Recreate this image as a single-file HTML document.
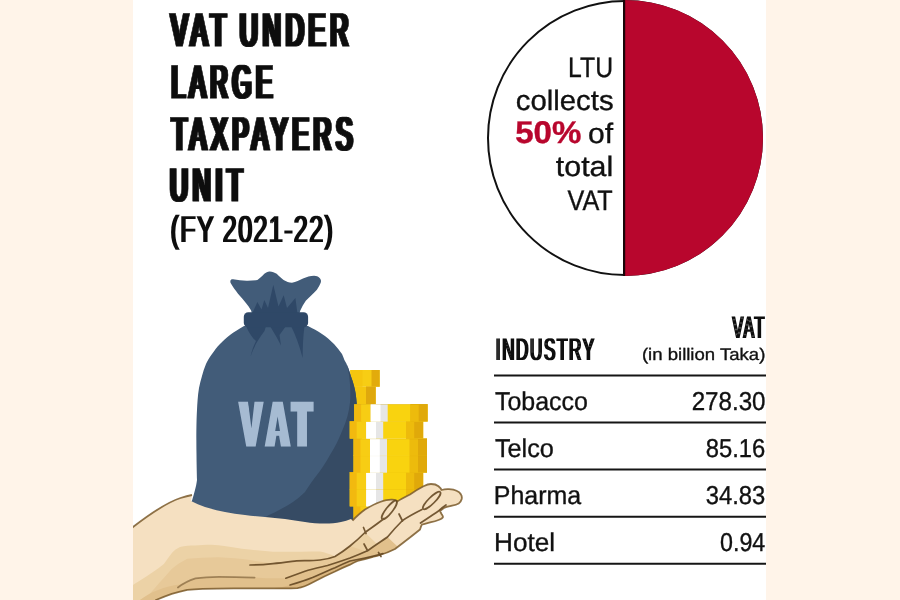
<!DOCTYPE html>
<html lang="en">
<head>
<meta charset="utf-8">
<title>VAT under Large Taxpayers Unit</title>
<style>
  html,body{margin:0;padding:0;background:#fff;}
  body{width:900px;height:600px;overflow:hidden;position:relative;}
  svg{position:absolute;left:0;top:0;display:block;}
  text{font-family:"Liberation Sans",sans-serif;text-rendering:geometricPrecision;}
</style>
</head>
<body>
<svg width="900" height="600" viewBox="0 0 900 600">
  <rect x="0" y="0" width="900" height="600" fill="#ffffff"/>
  <defs>
<filter id="d2" x="-5%" y="-20%" width="110%" height="140%"><feMorphology operator="dilate" radius="2 0"/></filter>
<filter id="d1" x="-5%" y="-20%" width="110%" height="140%"><feMorphology operator="dilate" radius="1 0"/></filter>
</defs>
  <!-- TITLE -->
  <text id="t1" font-family="'Liberation Sans',sans-serif" font-weight="400" fill="#0a0a0a" stroke="#0a0a0a" stroke-width="0.9" font-size="47" letter-spacing="9" filter="url(#d2)" word-spacing="-4" x="171.06" y="46.2" textLength="182.06" lengthAdjust="spacingAndGlyphs">VAT UNDER</text>
  <text id="t2" font-family="'Liberation Sans',sans-serif" font-weight="400" fill="#0a0a0a" stroke="#0a0a0a" stroke-width="0.9" font-size="47" letter-spacing="9" filter="url(#d2)" x="171.40" y="97.9" textLength="105.49" lengthAdjust="spacingAndGlyphs">LARGE</text>
  <text id="t3" font-family="'Liberation Sans',sans-serif" font-weight="400" fill="#0a0a0a" stroke="#0a0a0a" stroke-width="0.9" font-size="47" letter-spacing="9" filter="url(#d2)" x="171.86" y="149.5" textLength="185.41" lengthAdjust="spacingAndGlyphs">TAXPAYERS</text>
  <text id="t4" font-family="'Liberation Sans',sans-serif" font-weight="400" fill="#0a0a0a" stroke="#0a0a0a" stroke-width="0.9" font-size="47" letter-spacing="9" filter="url(#d2)" x="170.02" y="201.2" textLength="77.24" lengthAdjust="spacingAndGlyphs">UNIT</text>
  <text id="t5" font-family="'Liberation Sans',sans-serif" font-weight="400" fill="#0a0a0a" stroke="#0a0a0a" stroke-width="0" font-size="37.6" letter-spacing="2" filter="url(#d1)" x="170.50" y="242.2" textLength="163.70" lengthAdjust="spacingAndGlyphs">(FY 2021-22)</text>

  <!-- PIE -->
  <g id="pie">
    <circle cx="625" cy="138" r="137" fill="#fff" stroke="#111" stroke-width="2"/>
    <path d="M625 0 A138 138 0 0 1 625 276 Z" fill="#b8062d"/>
    <line x1="624.1" y1="0" x2="624.1" y2="276" stroke="#1a0508" stroke-width="2.2"/>
    <text id="p1" font-family="'Liberation Sans',sans-serif" font-weight="400" fill="#111" stroke="#111" stroke-width="0.35" font-size="28.2" x="568.10" y="76.7" textLength="44.95" lengthAdjust="spacingAndGlyphs">LTU</text>
    <text id="p2" font-family="'Liberation Sans',sans-serif" font-weight="400" fill="#111" stroke="#111" stroke-width="0.35" font-size="28.2" x="515.72" y="109.7" textLength="97.84" lengthAdjust="spacingAndGlyphs">collects</text>
    <text id="p3" font-family="'Liberation Sans',sans-serif" font-weight="700" fill="#b8062d" stroke="#b8062d" stroke-width="0.4" font-size="31.4" x="515.24" y="142.8" textLength="66.11" lengthAdjust="spacingAndGlyphs">50%</text>
    <text id="p4" font-family="'Liberation Sans',sans-serif" font-weight="400" fill="#111" stroke="#111" stroke-width="0.35" font-size="28.2" x="588.04" y="143" textLength="25.07" lengthAdjust="spacingAndGlyphs">of</text>
    <text id="p5" font-family="'Liberation Sans',sans-serif" font-weight="400" fill="#111" stroke="#111" stroke-width="0.35" font-size="28.2" x="555.81" y="176.4" textLength="57.50" lengthAdjust="spacingAndGlyphs">total</text>
    <text id="p6" font-family="'Liberation Sans',sans-serif" font-weight="400" fill="#111" stroke="#111" stroke-width="0.35" font-size="28.2" x="567.50" y="209.6" textLength="45.27" lengthAdjust="spacingAndGlyphs">VAT</text>
  </g>

  <!-- TABLE -->
  <g id="table">
    <text id="h1" font-family="'Liberation Sans',sans-serif" font-weight="400" fill="#0a0a0a" stroke="#0a0a0a" stroke-width="0" font-size="31.2" letter-spacing="3" filter="url(#d1)" x="495.78" y="360" textLength="99.91" lengthAdjust="spacingAndGlyphs">INDUSTRY</text>
    <text id="h2" font-family="'Liberation Sans',sans-serif" font-weight="400" fill="#0a0a0a" stroke="#0a0a0a" stroke-width="0" font-size="31.2" letter-spacing="3" filter="url(#d1)" x="732.40" y="338.2" textLength="33.42" lengthAdjust="spacingAndGlyphs">VAT</text>
    <text id="h3" font-family="'Liberation Sans',sans-serif" font-weight="400" fill="#111" stroke="#111" stroke-width="0.35" font-size="16.8" x="641.91" y="360" textLength="123.44" lengthAdjust="spacingAndGlyphs">(in billion Taka)</text>
    <g stroke="#151515" stroke-width="2">
      <line x1="494" x2="766" y1="375.4" y2="375.4"/>
      <line x1="494" x2="766" y1="422.6" y2="422.6"/>
      <line x1="494" x2="766" y1="469.5" y2="469.5"/>
      <line x1="494" x2="766" y1="516.8" y2="516.8"/>
      <line x1="494" x2="766" y1="563.8" y2="563.8"/>
    </g>
    <text id="r1" font-family="'Liberation Sans',sans-serif" font-weight="400" fill="#111" stroke="#111" stroke-width="0.35" font-size="25.8" x="494.94" y="409.7" textLength="92.97" lengthAdjust="spacingAndGlyphs">Tobacco</text>
    <text id="v1" font-family="'Liberation Sans',sans-serif" font-weight="400" fill="#111" stroke="#111" stroke-width="0.35" font-size="25.8" x="691.67" y="409.7" textLength="73.91" lengthAdjust="spacingAndGlyphs">278.30</text>
    <text id="r2" font-family="'Liberation Sans',sans-serif" font-weight="400" fill="#111" stroke="#111" stroke-width="0.35" font-size="25.8" x="494.94" y="456.7" textLength="58.98" lengthAdjust="spacingAndGlyphs">Telco</text>
    <text id="v2" font-family="'Liberation Sans',sans-serif" font-weight="400" fill="#111" stroke="#111" stroke-width="0.35" font-size="25.8" x="705.70" y="456.7" textLength="59.60" lengthAdjust="spacingAndGlyphs">85.16</text>
    <text id="r3" font-family="'Liberation Sans',sans-serif" font-weight="400" fill="#111" stroke="#111" stroke-width="0.35" font-size="25.8" x="493.77" y="503.8" textLength="87.33" lengthAdjust="spacingAndGlyphs">Pharma</text>
    <text id="v3" font-family="'Liberation Sans',sans-serif" font-weight="400" fill="#111" stroke="#111" stroke-width="0.35" font-size="25.8" x="705.70" y="503.8" textLength="59.60" lengthAdjust="spacingAndGlyphs">34.83</text>
    <text id="r4" font-family="'Liberation Sans',sans-serif" font-weight="400" fill="#111" stroke="#111" stroke-width="0.35" font-size="25.8" x="494.04" y="550.8" textLength="61.02" lengthAdjust="spacingAndGlyphs">Hotel</text>
    <text id="v4" font-family="'Liberation Sans',sans-serif" font-weight="400" fill="#111" stroke="#111" stroke-width="0.35" font-size="25.8" x="720.00" y="550.8" textLength="45.30" lengthAdjust="spacingAndGlyphs">0.94</text>
  </g>
  <!-- ILLUSTRATION -->
  <g id="illus">
    <!-- coins: back stack -->
    <rect x="350.3" y="370" width="29.4" height="16.7" fill="#f7cd14"/>
    <rect x="350.3" y="370" width="12.2" height="16.7" fill="#f5c60f"/>
    <rect x="371.5" y="370" width="8.2" height="16.7" fill="#e2ab0c"/>
    <rect x="354" y="386.5" width="21.7" height="17.9" fill="#f5c60f"/>
    <rect x="366" y="386.5" width="9.7" height="17.9" fill="#dfa80d"/>
    <!-- bag -->
    <path d="M244,326 C238,329.5 234,332 230,335 C226,338 223,341 220,344 C217,347 214.5,350.5 212,354 C209.5,357.5 207.5,360.5 206,364
      C204.3,368 203,372 202,376 C200.8,380 199.8,384 199,388 C198.3,392 197.9,396 197.6,400 C197.3,403.5 197.1,407 197,410
      C196.4,420 196.2,440 196.5,455 C196.6,465 196.9,474 197,480 C196.5,484 195.8,487 195,490 C194,494 193,497 192.2,500 L191,502.5
      L191,506 L205,512 L225,517 L245,520 L265,522 L285,524 L305,527 L362,528 L362,410 L357,410 C357,407.5 356.9,405.5 356.7,403.3
      C356.4,400 356.1,396.5 355.6,393.3 C355.2,390.5 354.6,388 353.9,385.6 C353.1,382.5 352.2,379.5 351.1,376.7 C350.1,373.3 349,370 347.8,366.7 C346.8,364.3 345.7,362 344.4,360 C343.7,358 342.9,356 342,354
      C339.7,350.5 337,347.2 334,344 C330.5,340.5 326.5,337 322,334 C317.5,331 313,328.5 308,326 Z" fill="#425c79"/>
    <clipPath id="bagclip"><path d="M244,326 C238,329.5 234,332 230,335 C226,338 223,341 220,344 C217,347 214.5,350.5 212,354 C209.5,357.5 207.5,360.5 206,364
      C204.3,368 203,372 202,376 C200.8,380 199.8,384 199,388 C198.3,392 197.9,396 197.6,400 C197.3,403.5 197.1,407 197,410
      C196.4,420 196.2,440 196.5,455 C196.6,465 196.9,474 197,480 C196.5,484 195.8,487 195,490 C194,494 193,497 192.2,500 L191,502.5
      L191,506 L205,512 L225,517 L245,520 L265,522 L285,524 L305,527 L362,528 L362,410 L357,410 C357,407.5 356.9,405.5 356.7,403.3
      C356.4,400 356.1,396.5 355.6,393.3 C355.2,390.5 354.6,388 353.9,385.6 C353.1,382.5 352.2,379.5 351.1,376.7 C350.1,373.3 349,370 347.8,366.7 C346.8,364.3 345.7,362 344.4,360 C343.7,358 342.9,356 342,354
      C339.7,350.5 337,347.2 334,344 C330.5,340.5 326.5,337 322,334 C317.5,331 313,328.5 308,326 Z"/></clipPath>
    <g clip-path="url(#bagclip)">
      <path d="M346,360 C350,375 351,390 350,402.5 C349,412 346.5,421 342.5,430 C339,439 335,447 330,455 C325.5,463 320.5,470.5 315,477.5
        C311,482.5 308,487.5 305,492 C301,496 297,499 293,502 C289,504.5 285,507 281,509 C277,511.2 273,513.2 269,515 L262,519 L300,535 L370,535 L370,350 Z" fill="#364b64"/>
    </g>
    <!-- bag frill -->
    <path d="M251.8,313 C251.6,312 251.3,311.2 251.1,310.4 C249.7,308 248,305.7 246.3,303.5 C243.7,300 240.8,297 238,293.8 C235.5,290.3 232.5,286.5 230.8,283.3
      C230,281.5 230.2,280.3 231.3,279.6 C231.9,279.2 232.5,279.2 233.1,279.3 C238,280.3 243,280.8 247.7,280.7 C251,280.7 254.5,280.6 257.4,280
      C260,278.3 262.2,276 264.3,273.8 C266,272.2 267.8,271.3 269.8,271.4 C272.3,271.5 274.6,272.4 276.7,273.8 C279,276 281.2,278.3 283.6,280
      C286.2,281.6 289,282.6 292,282.8 C296,282.4 299.5,280.3 303,278.6 C306.7,277 310.3,275.8 314.1,275.8 C316.2,275.8 318.3,276.5 319.6,277.9
      C321,279.2 321.3,281 320.7,282.8 C319.8,285.3 318.5,287.5 316.9,289.7 C313.5,293.6 309.5,297 305.8,300.7 C303.6,303.8 301.8,307 300.3,310.4 L299.6,313 Z" fill="#425c79"/>
    <!-- folds -->
    <path d="M252,314 L257.4,302 L261.5,309.5 L264.3,300 L268,308 L273.3,284.8 L278.5,306.5 L283.7,295.2 L287,308 L295.4,298 L297.5,314 Z" fill="#2f4867"/>
    <path d="M246,326 C249,333 252.5,338 256,341 C253.5,346 251.8,351 250.5,356.5 C253.5,347.5 258,339.5 264.5,331 L266,326 Z M270,326 L276.5,337 L281,345.5 L279.5,335 L286,326 Z M291,326 C295.5,335 299.5,345.5 302.6,358 C302.8,347 303,336.5 304.5,326 Z" fill="#2f4867"/>
    <!-- band -->
    <rect x="243.8" y="312.3" width="64.3" height="15" rx="4.5" ry="4.5" fill="#2f4867"/>

    <!-- bag label -->
    <filter id="lbl2" x="-10%" y="-20%" width="120%" height="140%"><feMorphology operator="dilate" radius="2 0"/></filter>
    <g filter="url(#lbl2)">
      <text transform="translate(0,444.8) scale(0.49,1)" x="492 544.9 598.2" y="0" font-family="'Liberation Sans',sans-serif" font-weight="700" font-size="60.7" fill="#a6bbd2" stroke="#a6bbd2" stroke-width="3" stroke-linejoin="miter">VAT</text>
    </g>
    <path d="M247.9,400 L254.7,400 L251.4,428.5 Z M277.6,416.5 L280,431 L275.2,431 Z" fill="#425c79"/>

    <!-- coins: front stack -->
    <g transform="translate(353.5,506)">
        <rect x="0" y="0" width="73.5" height="17.4" fill="#f9d30f"/>
        <rect x="0" y="0" width="7.4" height="17.4" fill="#f2b90f"/>
        <rect x="7" y="0" width="10" height="17.4" fill="#f7cd14"/>
        <rect x="16.5" y="0" width="17" height="17.4" fill="#e6e6e6"/>
        <rect x="16.5" y="0" width="9.8" height="17.4" fill="#ffffff"/>
        <rect x="56.3" y="0" width="17.2" height="17.4" fill="#e0a90a"/>
        <rect x="56.3" y="0" width="8.2" height="17.4" fill="#edbb0c"/>
        <rect x="0" y="0" width="73.5" height="0.8" fill="#b98a00" opacity="0.22"/>
      </g>
    <g transform="translate(349.7,489)">
        <rect x="0" y="0" width="73.5" height="17.4" fill="#f9d30f"/>
        <rect x="0" y="0" width="7.4" height="17.4" fill="#f2b90f"/>
        <rect x="7" y="0" width="10" height="17.4" fill="#f7cd14"/>
        <rect x="16.5" y="0" width="17" height="17.4" fill="#e6e6e6"/>
        <rect x="16.5" y="0" width="9.8" height="17.4" fill="#ffffff"/>
        <rect x="56.3" y="0" width="17.2" height="17.4" fill="#e0a90a"/>
        <rect x="56.3" y="0" width="8.2" height="17.4" fill="#edbb0c"/>
        <rect x="0" y="0" width="73.5" height="0.8" fill="#b98a00" opacity="0.22"/>
      </g>
    <g transform="translate(349.7,472)">
        <rect x="0" y="0" width="73.5" height="17.4" fill="#f9d30f"/>
        <rect x="0" y="0" width="7.4" height="17.4" fill="#f2b90f"/>
        <rect x="7" y="0" width="10" height="17.4" fill="#f7cd14"/>
        <rect x="16.5" y="0" width="17" height="17.4" fill="#e6e6e6"/>
        <rect x="16.5" y="0" width="9.8" height="17.4" fill="#ffffff"/>
        <rect x="56.3" y="0" width="17.2" height="17.4" fill="#e0a90a"/>
        <rect x="56.3" y="0" width="8.2" height="17.4" fill="#edbb0c"/>
        <rect x="0" y="0" width="73.5" height="0.8" fill="#b98a00" opacity="0.22"/>
      </g>
    <g transform="translate(353.5,455.3)">
        <rect x="0" y="0" width="73.5" height="17.4" fill="#f9d30f"/>
        <rect x="0" y="0" width="7.4" height="17.4" fill="#f2b90f"/>
        <rect x="7" y="0" width="10" height="17.4" fill="#f7cd14"/>
        <rect x="16.5" y="0" width="17" height="17.4" fill="#e6e6e6"/>
        <rect x="16.5" y="0" width="9.8" height="17.4" fill="#ffffff"/>
        <rect x="56.3" y="0" width="17.2" height="17.4" fill="#e0a90a"/>
        <rect x="56.3" y="0" width="8.2" height="17.4" fill="#edbb0c"/>
        <rect x="0" y="0" width="73.5" height="0.8" fill="#b98a00" opacity="0.22"/>
      </g>
    <g transform="translate(353.5,438.5)">
        <rect x="0" y="0" width="73.5" height="17.4" fill="#f9d30f"/>
        <rect x="0" y="0" width="7.4" height="17.4" fill="#f2b90f"/>
        <rect x="7" y="0" width="10" height="17.4" fill="#f7cd14"/>
        <rect x="16.5" y="0" width="17" height="17.4" fill="#e6e6e6"/>
        <rect x="16.5" y="0" width="9.8" height="17.4" fill="#ffffff"/>
        <rect x="56.3" y="0" width="17.2" height="17.4" fill="#e0a90a"/>
        <rect x="56.3" y="0" width="8.2" height="17.4" fill="#edbb0c"/>
        <rect x="0" y="0" width="73.5" height="0.8" fill="#b98a00" opacity="0.22"/>
      </g>
    <g transform="translate(349.7,421.2)">
        <rect x="0" y="0" width="73.5" height="17.4" fill="#f9d30f"/>
        <rect x="0" y="0" width="7.4" height="17.4" fill="#f2b90f"/>
        <rect x="7" y="0" width="10" height="17.4" fill="#f7cd14"/>
        <rect x="16.5" y="0" width="17" height="17.4" fill="#e6e6e6"/>
        <rect x="16.5" y="0" width="9.8" height="17.4" fill="#ffffff"/>
        <rect x="56.3" y="0" width="17.2" height="17.4" fill="#e0a90a"/>
        <rect x="56.3" y="0" width="8.2" height="17.4" fill="#edbb0c"/>
        <rect x="0" y="0" width="73.5" height="0.8" fill="#b98a00" opacity="0.22"/>
      </g>
    <g transform="translate(354.2,404.2)">
        <rect x="0" y="0" width="73.5" height="17.4" fill="#f9d30f"/>
        <rect x="0" y="0" width="7.4" height="17.4" fill="#f2b90f"/>
        <rect x="7" y="0" width="10" height="17.4" fill="#f7cd14"/>
        <rect x="16.5" y="0" width="17" height="17.4" fill="#e6e6e6"/>
        <rect x="16.5" y="0" width="9.8" height="17.4" fill="#ffffff"/>
        <rect x="56.3" y="0" width="17.2" height="17.4" fill="#e0a90a"/>
        <rect x="56.3" y="0" width="8.2" height="17.4" fill="#edbb0c"/>
        <rect x="0" y="0" width="73.5" height="0.8" fill="#b98a00" opacity="0.22"/>
      </g>

    <!-- hand -->
    <clipPath id="handclip"><path d="M110,545 L133,527 C146,517 165,503 180.5,498 C185,496.5 189,495.5 192,495
        L191,501 C195.5,503.2 200,505.2 205,507 C211.5,509 218,510.6 225,512 C231.5,513.2 238,514.2 245,515 C251.5,515.8 258,516.4 265,517
        C271.5,517.6 278,518.2 285,519 C291.5,519.9 298,521 305,522 C311.5,522.9 318,523.6 325,523.6 C330.5,523.5 336,523 341,522 C344.5,521.2 348,520.2 351,519 L352.5,520.5
        C356,517 360,513 365,509.5 C371,506 376,503.5 380,502 C385,500.3 389,499.5 392,499.7 C395,499.9 397,500.5 397.2,501.5
        C401,499 406,496.5 410,494.5 C415,491 419,488.5 423.5,486.2 C426,485 428.5,484 431,484 C434,484 437,485 438.5,486.2 C440,487.5 441,488.5 441.5,490
        C444,489.3 446.5,489 449,489.2 C452,489.4 454.5,489.8 456.5,490.7 C458.8,491.7 460.3,493 461,494.5 C461.9,496 462,497.5 461.7,499
        C461.2,501 460.2,502.5 458.7,503.5 C456.5,504.8 454.5,505.2 452,505.7 C450,506.2 448,506.6 446,507.2 C443.5,508 441.5,509.5 440,511
        C440.5,512 441,513 441.5,514 C442.3,515.2 443,516 443,517 C442.5,518.5 440.5,519.3 438.5,520 C436,520.9 433.5,521.6 431,522.2
        C428,523 425,523.7 422,524.5 C421,526 420.5,527.8 420,529.5 C412,536 403.5,542.5 395,549 C390,551.5 385,553.5 380,555
        C372,557.5 365,559 357.5,561 C355,562 352.5,563.3 350,564.7 C345,566.8 340,569 335,571.5 C327,575 320,578.5 312.5,582.5
        C308,585 303,587.3 297.5,588.2 C287,588.6 276,588.4 265,588.3 L233.9,588.3 C223,588.3 213,588.4 202.8,588.8
        C197,589 192,589.3 187.2,589.9 C182,591 177,592.2 171.7,593.8 C166,595.8 161,597.8 156,600 L150,612 L110,612 Z"/></clipPath>
    <path d="M110,545 L133,527 C146,517 165,503 180.5,498 C185,496.5 189,495.5 192,495
        L191,501 C195.5,503.2 200,505.2 205,507 C211.5,509 218,510.6 225,512 C231.5,513.2 238,514.2 245,515 C251.5,515.8 258,516.4 265,517
        C271.5,517.6 278,518.2 285,519 C291.5,519.9 298,521 305,522 C311.5,522.9 318,523.6 325,523.6 C330.5,523.5 336,523 341,522 C344.5,521.2 348,520.2 351,519 L352.5,520.5
        C356,517 360,513 365,509.5 C371,506 376,503.5 380,502 C385,500.3 389,499.5 392,499.7 C395,499.9 397,500.5 397.2,501.5
        C401,499 406,496.5 410,494.5 C415,491 419,488.5 423.5,486.2 C426,485 428.5,484 431,484 C434,484 437,485 438.5,486.2 C440,487.5 441,488.5 441.5,490
        C444,489.3 446.5,489 449,489.2 C452,489.4 454.5,489.8 456.5,490.7 C458.8,491.7 460.3,493 461,494.5 C461.9,496 462,497.5 461.7,499
        C461.2,501 460.2,502.5 458.7,503.5 C456.5,504.8 454.5,505.2 452,505.7 C450,506.2 448,506.6 446,507.2 C443.5,508 441.5,509.5 440,511
        C440.5,512 441,513 441.5,514 C442.3,515.2 443,516 443,517 C442.5,518.5 440.5,519.3 438.5,520 C436,520.9 433.5,521.6 431,522.2
        C428,523 425,523.7 422,524.5 C421,526 420.5,527.8 420,529.5 C412,536 403.5,542.5 395,549 C390,551.5 385,553.5 380,555
        C372,557.5 365,559 357.5,561 C355,562 352.5,563.3 350,564.7 C345,566.8 340,569 335,571.5 C327,575 320,578.5 312.5,582.5
        C308,585 303,587.3 297.5,588.2 C287,588.6 276,588.4 265,588.3 L233.9,588.3 C223,588.3 213,588.4 202.8,588.8
        C197,589 192,589.3 187.2,589.9 C182,591 177,592.2 171.7,593.8 C166,595.8 161,597.8 156,600 L150,612 L110,612 Z" fill="#f5e0c1"/>
    <g clip-path="url(#handclip)">
      <!-- mid tone -->
      <path d="M120,600 L120,594 C125,590.5 129,587.5 133,585 C136,583 138,581.7 140,580.5 C143.5,578.3 147,576.2 150,574 C153.5,571.5 157,569.3 160,567 C162,565.5 163,564.7 163.9,564 C166.5,560.5 169,556.8 171.7,553.3
        C174,550.5 177,548.3 180,547 C185,546 190,545.7 195,545.6 C200,545.2 205.5,544.8 211,544.8 C216,545 221,545.6 226,546.3 C231.5,547 237,547.8 242,548.7
        C250,549.6 257,550.4 265,551 L273,551.8 C289,552 305,551.6 320,551.5 C325,552.5 330,554 335,556.5
        C340,553.5 345,550 350,546 C355,542 360,537.5 365,532.5 L376,543 L395,552 L350,600 Z" fill="#ecd2a6"/>
      <!-- darker band -->
      <path d="M148.3,595.3 C152,591.3 155.7,587.2 159.2,582.9 C163.5,578.2 167.7,573.5 171.7,568.9 C176.5,565 182,561.5 187.2,558.8
        C197,557.8 208,557.3 218.3,557.2 C229,557.6 240,558.6 250,560 C258,561.6 266,562.8 273,563.6 C281,563 289,561.8 296.6,560.8
        C304,560.5 312,561 320,560 C325,559.5 330,558.5 335,556.5 C340,553.5 345,550 350,546 L366,551.5 L395,552 L350,600 L140,600 Z" fill="#e7c999"/>
      <!-- below line 2 -->
      <path d="M140,600 C150,592 165,586 180,584.4 C186,582 191,580 195.5,578.2 C203,577.2 211,576.8 218.9,576.7 C231,576.7 243,577 254.6,577.4
        C265,578.2 276,578.5 285.8,578.2 C292,576 298,573.8 305,571.2 C312,569 320,567.3 327.5,565.5 C335,563.2 342,560.8 350,558
        C356,555.7 362,553.2 368,550.5 C374,546 381,541.5 387.5,537 L398,547 L350,600 Z" fill="#e1c08c"/>
      <!-- below line 3 -->
      <path d="M270,600 L275,588 C280,587.5 285,586.5 290,585 C297,583 305,580.5 312.5,577.5 C320,574.2 327,571 335,567.7 C340,565.3 345,563 350,561
        C355,560 360,559 365,558 C371,556.7 377,555.2 383,553.5 L400,548 L350,600 Z" fill="#d9b57e"/>
    </g>
    <path d="M110,545 L133,527 C146,517 165,503 180.5,498 C185,496.5 189,495.5 192,495 M352.5,520.5 C356,517 360,513 365,509.5 C371,506 376,503.5 380,502 C385,500.3 389,499.5 392,499.7 C395,499.9 397,500.5 397.2,501.5
        C401,499 406,496.5 410,494.5 C415,491 419,488.5 423.5,486.2 C426,485 428.5,484 431,484 C434,484 437,485 438.5,486.2 C440,487.5 441,488.5 441.5,490
        C444,489.3 446.5,489 449,489.2 C452,489.4 454.5,489.8 456.5,490.7 C458.8,491.7 460.3,493 461,494.5 C461.9,496 462,497.5 461.7,499
        C461.2,501 460.2,502.5 458.7,503.5 C456.5,504.8 454.5,505.2 452,505.7 C450,506.2 448,506.6 446,507.2 C443.5,508 441.5,509.5 440,511
        C440.5,512 441,513 441.5,514 C442.3,515.2 443,516 443,517 C442.5,518.5 440.5,519.3 438.5,520 C436,520.9 433.5,521.6 431,522.2
        C428,523 425,523.7 422,524.5 C421,526 420.5,527.8 420,529.5 C412,536 403.5,542.5 395,549 C390,551.5 385,553.5 380,555
        C372,557.5 365,559 357.5,561 C355,562 352.5,563.3 350,564.7 C345,566.8 340,569 335,571.5 C327,575 320,578.5 312.5,582.5
        C308,585 303,587.3 297.5,588.2 C287,588.6 276,588.4 265,588.3 L233.9,588.3 C223,588.3 213,588.4 202.8,588.8
        C197,589 192,589.3 187.2,589.9 C182,591 177,592.2 171.7,593.8 C166,595.8 161,597.8 156,600 L150,612" fill="none" stroke="#7a5a2c" stroke-width="1.8" opacity="0.85"/>
    <!-- finger details -->
    <g fill="none" stroke="#634621" stroke-width="1.7" stroke-linecap="round" stroke-linejoin="round" opacity="0.88">
      <ellipse cx="389.3" cy="510" rx="11.5" ry="3.2" transform="rotate(-52 389.3 510)"/>
      <ellipse cx="431.7" cy="500.5" rx="12" ry="3.2" transform="rotate(-45 431.7 500.5)"/>
      <path d="M384,518.5 C378,523.5 371,528 365,532.5 C360,537.5 355,542 350,546 C345,550 340,553.5 335,556.5 C330,558.5 325,559.5 320,560 C312,561 304,560.5 296.6,560.8 C289,561.8 281,563 273,563.6 C265,564.5 257,565 250,565"/>
      <path d="M422,509.5 C415,513 408.5,516.5 402.5,520.5 C397,526 392,531.5 387.5,537 C381,541.5 374,546 368,550.5 C362,553.2 356,555.7 350,558 C342,560.8 335,563.2 327.5,565.5 C320,567.3 312,569 305,571.2 C298,573.8 292,576 285.8,578.2"/>
      <path d="M383,553.5 C377,555.2 371,556.7 365,558 C360,559 355,560 350,561 C345,563 340,565.3 335,567.7 C327,571 320,574.2 312.5,577.5 C305,580.5 297,583 290,585"/>
      <path d="M446,505 C443,507 440.5,509 438.5,511 C432.5,515 426.5,519.3 420.5,523"/>
      <path d="M254.6,577.6 C243,577.2 231,576.9 218.9,576.9 C211,577 203,577.4 195.5,578.4 C189,580.5 183,583.5 177.9,587.5" opacity="0.6"/>
      <path d="M363.5,527.5 L366,533.5 M399,514 L402.5,521 M364,544 L367.5,550.5 M378.5,552.5 L381,556.5"/>
    </g>
  </g>
  <!-- side panels -->
  <rect x="0" y="0" width="133" height="600" fill="#fff4e9"/>
  <rect x="766" y="0" width="134" height="600" fill="#fff4e9"/>
</svg>
</body>
</html>
